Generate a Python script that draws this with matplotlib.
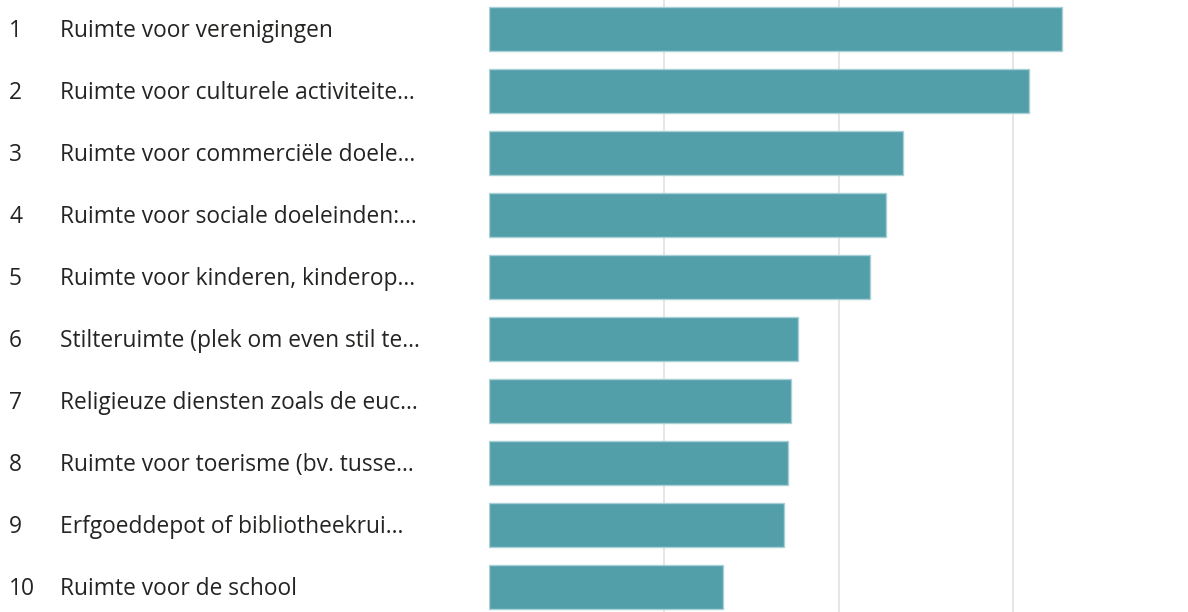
import matplotlib.pyplot as plt
from matplotlib import transforms

rangen = ["1", "2", "3", "4", "5", "6", "7", "8", "9", "10"]
labels = [
    "Ruimte voor verenigingen",
    "Ruimte voor culturele activiteite...",
    "Ruimte voor commerciële doele...",
    "Ruimte voor sociale doeleinden:...",
    "Ruimte voor kinderen, kinderop...",
    "Stilteruimte (plek om even stil te...",
    "Religieuze diensten zoals de euc...",
    "Ruimte voor toerisme (bv. tusse...",
    "Erfgoeddepot of bibliotheekrui...",
    "Ruimte voor de school",
]
scores = [3.28, 3.09, 2.37, 2.27, 2.18, 1.77, 1.73, 1.71, 1.69, 1.34]

plt.rcParams['font.family'] = ['Open Sans', 'DejaVu Sans']

fig = plt.figure(figsize=(11.88, 6.12), dpi=100)
ax = fig.add_axes([489 / 1188, 0, 1 - 489 / 1188, 1])

posities = list(range(len(scores)))
ax.barh(posities, scores, height=0.71, color="#529FAA",
        edgecolor="#A8D0D5", linewidth=1.0, zorder=3)

ax.set_xlim(0, 4)
ax.set_ylim(9.4, -0.47)
ax.set_xticks([1, 2, 3])
ax.grid(axis="x", color="#E4E4E4", linewidth=1.3, zorder=0)
ax.tick_params(left=False, bottom=False, labelleft=False, labelbottom=False)
for s in ax.spines.values():
    s.set_visible(False)

# rangnummer en omschrijving links van de balken
trans = transforms.blended_transform_factory(fig.transFigure, ax.transData)
for i, (r, t) in enumerate(zip(rangen, labels)):
    ax.text(9 / 1188, i + 0.03, r, transform=trans, ha="left", va="center",
            fontsize=16.4, color="#252423")
    ax.text(60 / 1188, i + 0.03, t, transform=trans, ha="left", va="center",
            fontsize=16.4, color="#252423")

fig.savefig("out.png", dpi=100)
